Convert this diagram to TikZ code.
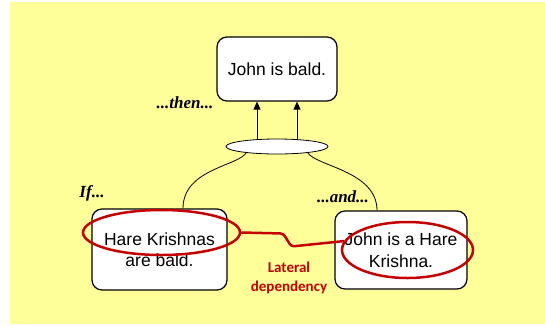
\documentclass[tikz,border=0pt]{standalone}
\usepackage{fontspec}
\setmainfont{Liberation Sans}
\newfontfamily\cuefont{Liberation Serif}
\newfontfamily\notefont{Carlito}
\usetikzlibrary{shapes.geometric,arrows.meta,positioning}
\definecolor{paper}{RGB}{255,255,153}
\definecolor{marker}{RGB}{196,0,0}

\begin{document}
\begin{tikzpicture}[x=1pt, y=-1pt,
    claim/.style={draw, line width=1.2pt, rounded corners=10pt, fill=white, align=center, font=\fontsize{17.5}{21.5}\selectfont},
    cue/.style={font=\cuefont\bfseries\itshape\fontsize{17}{20}\selectfont},
    ring/.style={draw=marker, line width=2.5pt, ellipse, inner sep=0pt},
    link/.style={line width=0.8pt}]
    % Background
    \useasboundingbox (0,0) rectangle (545,325);
    \fill[paper] (10,2) rectangle (545,324);

    % Conclusion
    \node[claim, minimum width=120pt, minimum height=64pt] (bald) at (277,69) {John is bald.};
    \node[cue] (then) at (185,103) {...then...};

    % Joint support
    \node[draw, link, ellipse, fill=white, minimum width=102pt, minimum height=15pt] (joint) at (277,146.5) {};
    \draw[link, -{Triangle[length=8pt,width=7pt]}] ([xshift=-20pt]joint.north) -- ([xshift=-20pt]bald.south);
    \draw[link, -{Triangle[length=8pt,width=7pt]}] ([xshift=20pt]joint.north) -- ([xshift=20pt]bald.south);

    % Premises
    \node[claim, minimum width=135pt, minimum height=81pt] (hare) at (159.5,249.5) {Hare Krishnas\\are bald.};
    \node[claim, minimum width=132pt, minimum height=78pt] (member) at (401,250) {John is a Hare\\Krishna.};
    \node[cue] (if) at (92,193) {If...};
    \node[cue] (and) at (343,197) {...and...};
    \draw[link] ([xshift=6pt]joint.south west) .. controls +(-7,14) and +(0,-40) .. ([xshift=23.5pt]hare.north);
    \draw[link] ([xshift=-6pt]joint.south east) .. controls +(7,14) and +(0,-40) .. ([xshift=-24pt]member.north);

    % Highlights
    \node[ring, minimum width=157pt, minimum height=45pt] (hl1) at (161.5,232.5) {};
    \node[ring, minimum width=131pt, minimum height=56pt] (hl2) at (407.5,250) {};
    \draw[marker, line width=2.5pt, rounded corners=3pt] (hl1.east) -- ++(42,1) -- ++(8,13) -- (hl2.172);
    \node[text=marker, align=center, font=\notefont\bfseries\fontsize{15}{19}\selectfont] (lateral) at (289,277.5) {Lateral\\dependency};
\end{tikzpicture}
\end{document}
